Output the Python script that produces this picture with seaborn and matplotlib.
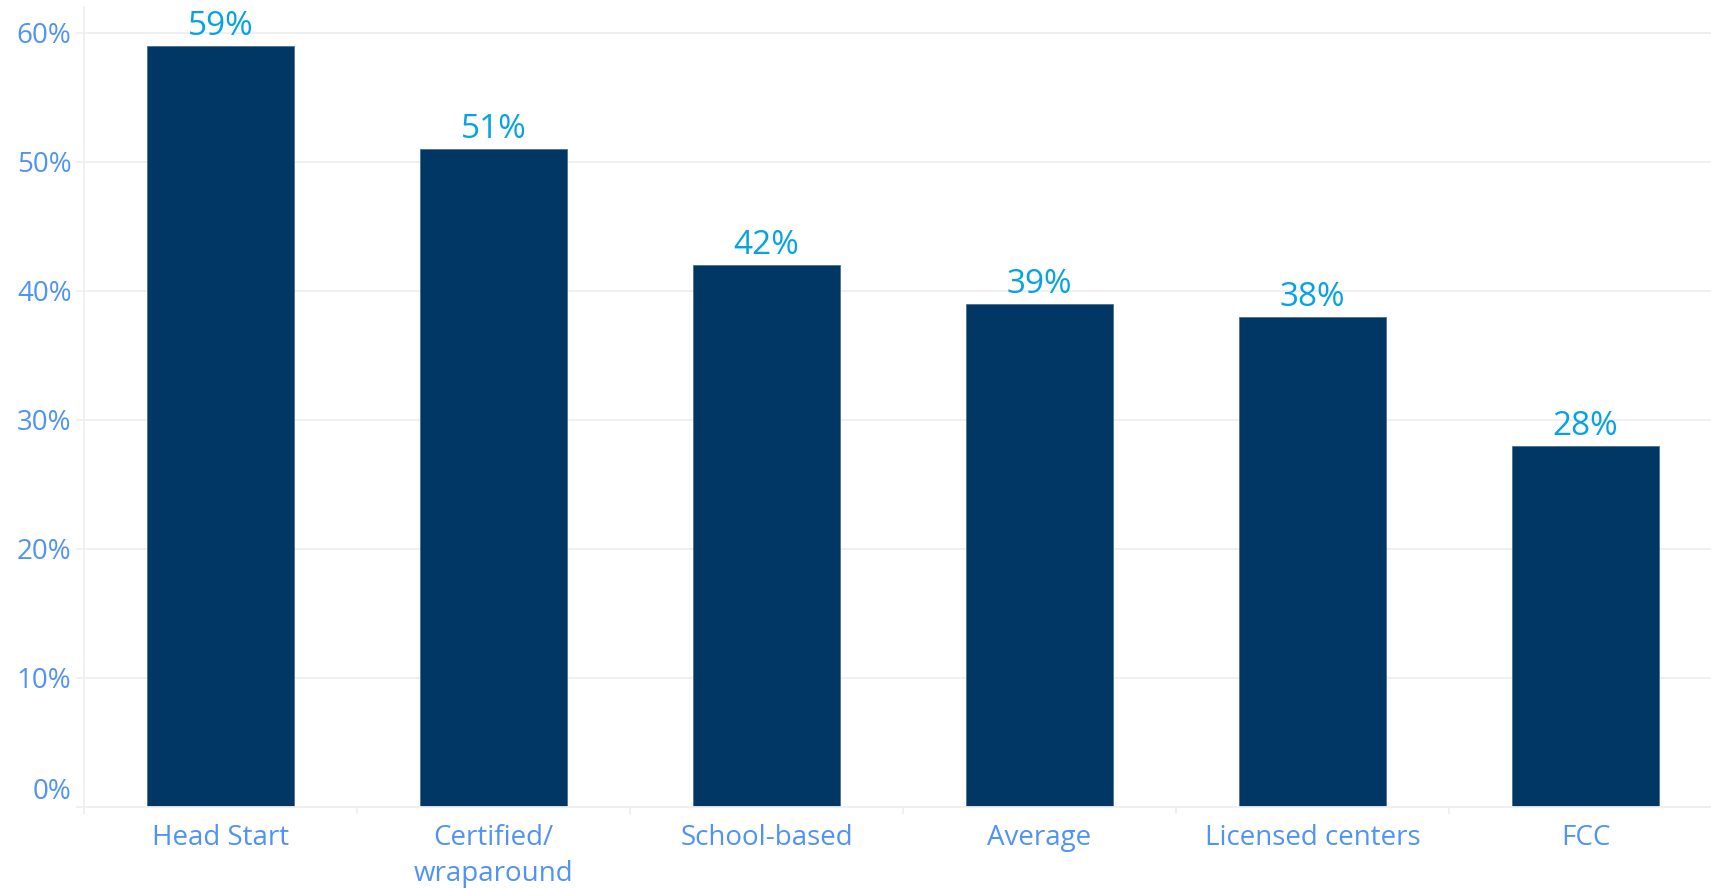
import matplotlib
matplotlib.use("Agg")
import matplotlib.pyplot as plt
import seaborn as sns
from matplotlib.ticker import FixedLocator
from matplotlib.transforms import ScaledTranslation

# Share of programs by type
categories = ["Head Start", "Certified/\nwraparound", "School-based", "Average", "Licensed centers", "FCC"]
values = [59, 51, 42, 39, 38, 28]
y_ticks = [0, 10, 20, 30, 40, 50, 60]
y_tick_labels = [f"{t}%" for t in y_ticks]
value_labels = [f"{v}%" for v in values]

BAR = "#003764"
TICK_TEXT = "#5093f5"
VALUE_TEXT = "#05a3e3"
GRID = "#efefef"

sns.set_theme(style="white")
plt.rcParams["font.family"] = ["Open Sans", "DejaVu Sans"]

fig = plt.figure(figsize=(17.11, 8.88), dpi=100)
ax = fig.add_axes([0.0491, 0.0912, 0.9509, 0.9009])

sns.barplot(x=categories, y=values, color=BAR, saturation=1, width=0.54,
            edgecolor="#4f6f90", linewidth=0.6, ax=ax)

ax.set_xlim(-0.5, -0.5 + 1627 / 273)
ax.set_ylim(0, 62)
ax.set_yticks(y_ticks)
ax.set_yticklabels(y_tick_labels)
ax.set_xlabel("")
ax.set_ylabel("")

# light horizontal grid, drawn behind the bars
ax.set_axisbelow(True)
ax.yaxis.grid(True, color=GRID, linewidth=1.3)
ax.xaxis.grid(False)

for side in ("top", "right"):
    ax.spines[side].set_visible(False)
ax.spines["left"].set_color(GRID)
ax.spines["left"].set_linewidth(1.3)
ax.spines["bottom"].set_color(GRID)
ax.spines["bottom"].set_linewidth(1.3)

ax.tick_params(axis="y", which="major", length=6, width=1.3, color=GRID,
               labelsize=20, labelcolor=TICK_TEXT, pad=3, left=True)
ax.tick_params(axis="x", which="major", length=0, labelsize=20,
               labelcolor=TICK_TEXT, pad=12)
for lbl in ax.get_xticklabels():
    lbl.set_linespacing(1.38)

# the baseline label sits a little above the zero line
zero_lbl = ax.get_yticklabels()[0]
zero_lbl.set_transform(zero_lbl.get_transform()
                       + ScaledTranslation(0, 0.19, fig.dpi_scale_trans))

# separators between categories
ax.xaxis.set_minor_locator(FixedLocator([i - 0.5 for i in range(len(categories) + 1)]))
ax.tick_params(axis="x", which="minor", length=5, width=1.3, color=GRID, bottom=True)

ax.bar_label(ax.containers[0], labels=value_labels, padding=2,
             fontsize=24, color=VALUE_TEXT)

fig.savefig("out.png", dpi=100)
